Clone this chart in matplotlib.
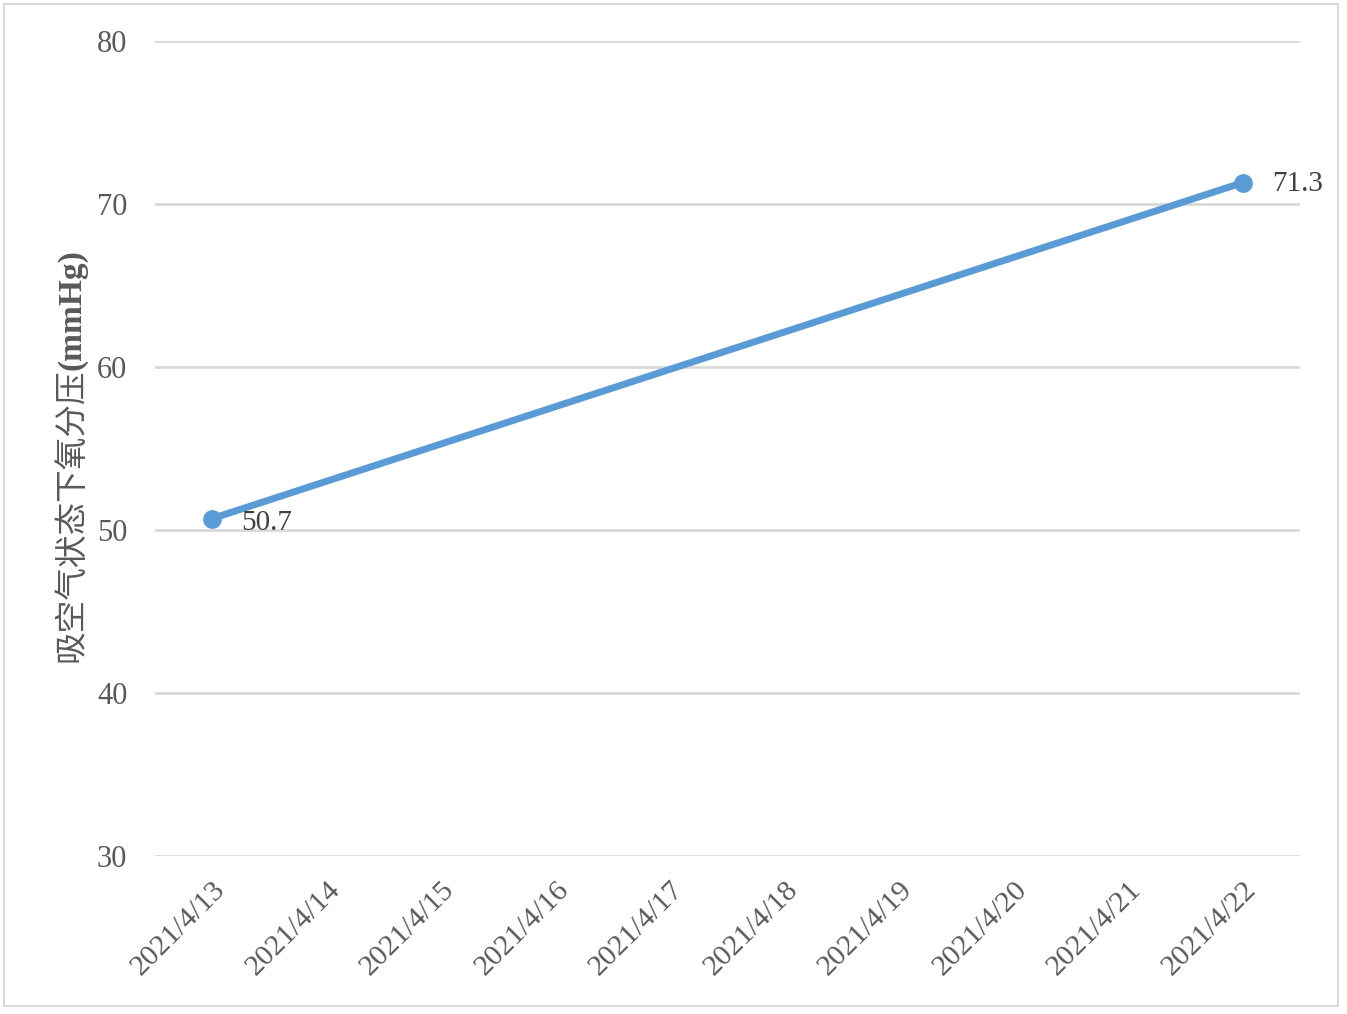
import numpy as np
import matplotlib.pyplot as plt
from matplotlib.patches import Rectangle

# data
dates = ['2021/4/13', '2021/4/14', '2021/4/15', '2021/4/16', '2021/4/17',
         '2021/4/18', '2021/4/19', '2021/4/20', '2021/4/21', '2021/4/22']
point_idx = [0, 9]
point_vals = [50.7, 71.3]
ylabel_cn = '吸空气状态下氧分压'
ylabel_unit = '(mmHg)'

plt.rcParams['font.family'] = ['Liberation Serif', 'Noto Sans CJK SC']
txt = '#595959'
blue = '#5B9BD5'

fig = plt.figure(figsize=(13.47, 10.14), dpi=100)
ax = fig.add_axes([0.1151, 0.1558, 0.85, 0.804])

ax.plot(point_idx, point_vals, color=blue, lw=5, marker='o', ms=12.5,
        solid_capstyle='round', zorder=3)
ax.annotate(f'{point_vals[0]}', (point_idx[0], point_vals[0]), xytext=(21, -3),
            textcoords='offset points', ha='left', va='center', fontsize=21, color='#404040')
ax.annotate(f'{point_vals[1]}', (point_idx[1], point_vals[1]), xytext=(21, -1),
            textcoords='offset points', ha='left', va='center', fontsize=21, color='#404040')

ax.set_xlim(-0.5, 9.5)
ax.set_ylim(30, 80)
ax.set_yticks(np.arange(30, 81, 10))
ax.set_xticks(range(len(dates)))
ax.set_xticklabels(dates, rotation=45, ha='right', rotation_mode='anchor')
ax.tick_params(length=0, labelsize=21.5, colors=txt, pad=15)
ax.tick_params(axis='y', labelsize=22, pad=20)
ax.grid(axis='y', color='#D9D9D9', lw=2)
ax.set_axisbelow(True)
for s in ax.spines.values():
    s.set_visible(False)

# y label: chinese part + bold unit
t1 = fig.text(72 / 1347, 1 - 662 / 1014, ylabel_cn, rotation=90, ha='center', va='bottom',
              fontsize=23.5, color=txt)
fig.canvas.draw()
bb = t1.get_window_extent()
fig.text(72 / 1347, (bb.y1 - 2) / 1014, ylabel_unit, rotation=90, ha='center', va='bottom',
         fontsize=24, color=txt, fontweight='bold')

fig.patches.append(Rectangle((0.003, 0.008), 0.99, 0.988, transform=fig.transFigure,
                             fill=False, edgecolor='#D9D9D9', lw=1.5))

fig.savefig('out.png', dpi=100)
